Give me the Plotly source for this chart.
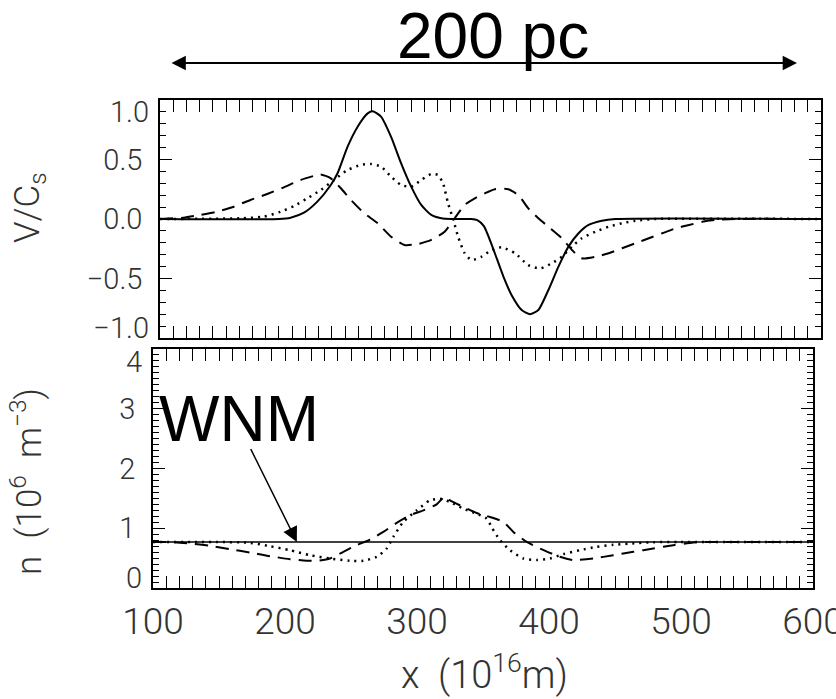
import plotly.graph_objects as go

# ---------------- data ----------------
# top panel: V / C_s
x_v_solid = [100, 190, 198.8, 208.9, 219.0, 229.2, 234.3, 241.9, 249.5, 257.1, 261.0, 267.2,
             274.8, 282.4, 290.0, 297.6, 305.2, 312.8, 320.4, 335.6, 340.0, 345.0, 350.0,
             355.0, 360.0, 366.0, 373.6, 379.9, 386.2, 393.8, 401.4, 409.0, 416.6, 424.2,
             434.3, 444.5, 600]
v_solid = [0, 0, 0.011, 0.053, 0.146, 0.286, 0.384, 0.608, 0.776, 0.888, 0.905, 0.86,
           0.69, 0.468, 0.272, 0.118, 0.034, 0.006, 0, 0, -0.01, -0.06, -0.19,
           -0.34, -0.49, -0.64, -0.765, -0.80, -0.765, -0.597, -0.40, -0.232, -0.12, -0.05,
           -0.014, 0, 0]

x_v_dot = [100, 160.8, 178.5, 191.2, 201.3, 211.5, 221.6, 231.7, 241.9, 252.0, 259.6, 267.2,
           274.8, 282.4, 290.0, 297.6, 305.2, 310.3, 314.1, 317.9, 321.7, 325.5, 330.5, 335.6,
           343.2, 350.8, 358.4, 368.5, 378.6, 387.5, 396.4, 404.0, 411.6, 419.1, 429.3, 439.4,
           449.5, 459.7, 474.9, 600]
v_dot = [0, 0.006, 0.02, 0.061, 0.109, 0.174, 0.244, 0.328, 0.412, 0.454, 0.462, 0.44,
         0.356, 0.286, 0.272, 0.328, 0.378, 0.37, 0.30, 0.132, 0, -0.149, -0.288, -0.345,
         -0.317, -0.26, -0.238, -0.288, -0.387, -0.415, -0.372, -0.317, -0.232, -0.162, -0.107, -0.065,
         -0.036, -0.014, 0, 0]

x_v_dash = [100, 117.7, 130.4, 143.1, 155.7, 168.4, 181.1, 193.7, 206.4, 219.0, 221.6, 229.2,
            236.8, 244.4, 254.5, 264.7, 274.8, 284.9, 295.1, 305.2, 315.3, 322.9, 330.5, 338.1,
            345.7, 353.3, 363.4, 371.0, 378.6, 386.2, 393.8, 404.0, 411.6, 419.1, 429.3, 439.4,
            449.5, 459.7, 469.8, 479.9, 490.1, 500.2, 510.3, 520.4, 535.6, 600]
v_dash = [0, 0.011, 0.034, 0.061, 0.103, 0.16, 0.21, 0.266, 0.328, 0.37, 0.375, 0.342,
          0.258, 0.16, 0.048, -0.036, -0.149, -0.218, -0.21, -0.176, -0.107, 0.006, 0.118, 0.174,
          0.216, 0.25, 0.25, 0.2, 0.09, 0.006, -0.065, -0.162, -0.26, -0.33, -0.317, -0.288,
          -0.246, -0.204, -0.162, -0.12, -0.078, -0.05, -0.023, -0.008, 0, 0]

# bottom panel: n (10^6 m^-3)
x_n_solid = [100, 600]
n_solid = [0.77, 0.77]

x_n_dash = [100, 112.9, 128.0, 143.2, 158.3, 173.5, 188.6, 203.8, 216.4, 224.0, 234.1, 244.2,
            254.3, 264.4, 274.5, 284.6, 294.7, 304.8, 314.9, 321.2, 325.0, 335.1, 345.2, 355.3,
            365.4, 373.0, 383.1, 393.2, 408.3, 418.4, 433.6, 448.7, 463.9, 479.0, 494.2, 509.3,
            519.5, 600]
n_dash = [0.77, 0.77, 0.744, 0.706, 0.65, 0.594, 0.533, 0.483, 0.456, 0.456, 0.494, 0.606,
          0.717, 0.811, 0.939, 1.089, 1.217, 1.3, 1.4, 1.533, 1.467, 1.356, 1.256, 1.189,
          1.106, 0.939, 0.772, 0.661, 0.522, 0.467, 0.494, 0.55, 0.606, 0.661, 0.717, 0.761,
          0.77, 0.77]

x_n_dot = [100, 148.3, 173.5, 188.6, 203.8, 218.9, 234.1, 249.2, 259.3, 269.5, 277.0, 282.1,
           289.6, 299.8, 309.8, 317.4, 325.0, 335.1, 345.2, 352.8, 357.0, 362.9, 370.5, 380.6,
           390.7, 400.8, 410.8, 423.5, 436.1, 448.7, 461.4, 479.0, 499.2, 600]
n_dot = [0.77, 0.77, 0.756, 0.7, 0.633, 0.55, 0.494, 0.456, 0.456, 0.522, 0.661, 0.856,
         1.106, 1.3, 1.467, 1.494, 1.439, 1.328, 1.244, 1.161, 1.0, 0.8, 0.633, 0.494,
         0.467, 0.494, 0.567, 0.633, 0.689, 0.722, 0.744, 0.767, 0.77, 0.77]

x_ticks = [100, 200, 300, 400, 500, 600]
v_ticks = [-1.0, -0.5, 0.0, 0.5, 1.0]
n_ticks = [0, 1, 2, 3, 4]

# annotation anchors (data coords of the bottom panel)
wnm_tip = (209, 0.77)
wnm_tail = (173.5, 2.35)

# ---------------- figure ----------------
W, H = 836, 699
def px(p):
    return p / W
def py(p):
    return 1 - p / H

def fmt_v(v):
    return f"{v:.1f}".replace("-", "\u2212")

LINE = dict(color="black", width=2)
DASH = "13px,8px"
DOT = "2px,5px"
fig = go.Figure()
fig.add_trace(go.Scatter(x=x_v_solid, y=v_solid, mode="lines", line=dict(LINE, shape="spline", smoothing=0.6),
                         xaxis="x", yaxis="y"))
fig.add_trace(go.Scatter(x=x_v_dot, y=v_dot, mode="lines",
                         line=dict(LINE, dash=DOT, width=2.5, shape="spline", smoothing=0.6), xaxis="x", yaxis="y"))
fig.add_trace(go.Scatter(x=x_v_dash, y=v_dash, mode="lines",
                         line=dict(LINE, dash=DASH, shape="spline", smoothing=0.6), xaxis="x", yaxis="y"))
fig.add_trace(go.Scatter(x=x_n_solid, y=n_solid, mode="lines", line=dict(color="black", width=1.5),
                         xaxis="x2", yaxis="y2"))
fig.add_trace(go.Scatter(x=x_n_dash, y=n_dash, mode="lines",
                         line=dict(LINE, dash=DASH, shape="spline", smoothing=0.6), xaxis="x2", yaxis="y2"))
fig.add_trace(go.Scatter(x=x_n_dot, y=n_dot, mode="lines",
                         line=dict(LINE, dash=DOT, width=2.5, shape="spline", smoothing=0.6), xaxis="x2", yaxis="y2"))
# empty traces that attach the label-only axes to their subplots (no marks drawn)
for xa, ya in [("x", "y3"), ("x", "y4"), ("x2", "y5"), ("x2", "y6")]:
    fig.add_trace(go.Scatter(x=[None], y=[None], mode="lines", xaxis=xa, yaxis=ya,
                             hoverinfo="skip", showlegend=False))

FAM = "Roboto, Liberation Sans, Arial, sans-serif"
TICKFONT_Y = dict(family=FAM, size=29, color="#333", weight=300)
TICKFONT_X = dict(family=FAM, size=37, color="#333", weight=300)

common = dict(showline=True, linecolor="black", linewidth=1.5, mirror="allticks",
              ticks="inside", ticklen=12, tickwidth=1.3, tickcolor="black",
              showgrid=False, zeroline=False)
minor_x = dict(dtick=10, tick0=100, ticks="inside", ticklen=6, tickwidth=1, tickcolor="black")
minor_y = dict(dtick=0.1, tick0=0, ticks="inside", ticklen=6, tickwidth=1, tickcolor="black")
# label-only axes used to nudge the end labels inward (as in the reference)
label_only = dict(showline=False, ticks="", showgrid=False, zeroline=False, side="left",
                  tickfont=TICKFONT_Y, ticklabelstandoff=10, ticklabeloverflow="allow",
                  autorange=False)

top_dom = [py(338), py(100)]
bot_dom = [py(588), py(349)]

fig.update_layout(
    width=W, height=H, margin=dict(l=0, r=0, t=0, b=0, autoexpand=False),
    paper_bgcolor="white", plot_bgcolor="white", showlegend=False,
    xaxis=dict(common, domain=[px(160), px(821)], range=[100, 600], anchor="y",
               tickvals=x_ticks, showticklabels=False, minor=minor_x),
    yaxis=dict(common, domain=top_dom, range=[-1, 1], anchor="x",
               tickvals=v_ticks,
               ticktext=[fmt_v(v) if abs(v) < 1 else "" for v in v_ticks],
               tickfont=TICKFONT_Y, ticklabelstandoff=10, minor=minor_y),
    yaxis3=dict(label_only, overlaying="y", anchor="x", range=[-1, 1],
                tickvals=[v_ticks[-1]], ticktext=[fmt_v(v_ticks[-1])], ticklabelshift=12),
    yaxis4=dict(label_only, overlaying="y", anchor="x", range=[-1, 1],
                tickvals=[v_ticks[0]], ticktext=[fmt_v(v_ticks[0])], ticklabelshift=-10),
    xaxis2=dict(common, domain=[px(153), px(813)], range=[100, 600], anchor="y2",
                tickvals=x_ticks, ticktext=[str(v) for v in x_ticks],
                tickfont=TICKFONT_X, ticklabelstandoff=0, ticklabeloverflow="allow", minor=minor_x),
    yaxis2=dict(common, domain=bot_dom, range=[0, 4], anchor="x2",
                tickvals=n_ticks,
                ticktext=[str(v) if 0 < v < 4 else "" for v in n_ticks],
                tickfont=TICKFONT_Y, ticklabelstandoff=10, minor=minor_y),
    yaxis5=dict(label_only, overlaying="y2", anchor="x2", range=[0, 4],
                tickvals=[n_ticks[-1]], ticktext=[str(n_ticks[-1])], ticklabelshift=13),
    yaxis6=dict(label_only, overlaying="y2", anchor="x2", range=[0, 4],
                tickvals=[n_ticks[0]], ticktext=[str(n_ticks[0])], ticklabelshift=-10),
)

LABELFONT = dict(family=FAM, size=35, color="#333", weight=300)
BIGFONT = dict(family="Liberation Sans, Arial, sans-serif", color="black")

annotations = [
    # 200 pc scale bar
    dict(x=px(493), y=py(36), xref="paper", yref="paper", text="200 pc", showarrow=False,
         font=dict(BIGFONT, size=64), xanchor="center", yanchor="middle"),
    dict(x=px(797), y=py(63), xref="paper", yref="paper", text="", showarrow=True,
         ax=-627, ay=0, axref="pixel", ayref="pixel", arrowside="end+start",
         arrowhead=2, startarrowhead=2, arrowsize=1.3, startarrowsize=1.3, arrowwidth=2.2,
         arrowcolor="black", standoff=0, startstandoff=0),
    # WNM label and arrow
    dict(x=px(239), y=py(419), xref="paper", yref="paper", text="WNM", showarrow=False,
         font=dict(BIGFONT, size=64), xanchor="center", yanchor="middle"),
    dict(x=wnm_tip[0], y=wnm_tip[1], xref="x2", yref="y2", text="", showarrow=True,
         ax=wnm_tail[0], ay=wnm_tail[1], axref="x2", ayref="y2",
         arrowhead=2, arrowsize=2.0, arrowwidth=1.5, arrowcolor="black", standoff=0),
    # axis titles
    dict(x=px(30), y=py(208), xref="paper", yref="paper", text="V/C<sub>s</sub>", showarrow=False,
         textangle=-90, font=LABELFONT, xanchor="center", yanchor="middle"),
    dict(x=px(26), y=py(482), xref="paper", yref="paper",
         text="n  (10<sup>6</sup>  m<sup>\u22123</sup>)", showarrow=False,
         textangle=-90, font=LABELFONT, xanchor="center", yanchor="middle"),
    dict(x=px(485), y=py(672), xref="paper", yref="paper", text="x  (10<sup>16</sup>m)", showarrow=False,
         font=dict(LABELFONT, size=38), xanchor="center", yanchor="middle"),
]
fig.update_layout(annotations=annotations)

fig.write_html("out.html")
